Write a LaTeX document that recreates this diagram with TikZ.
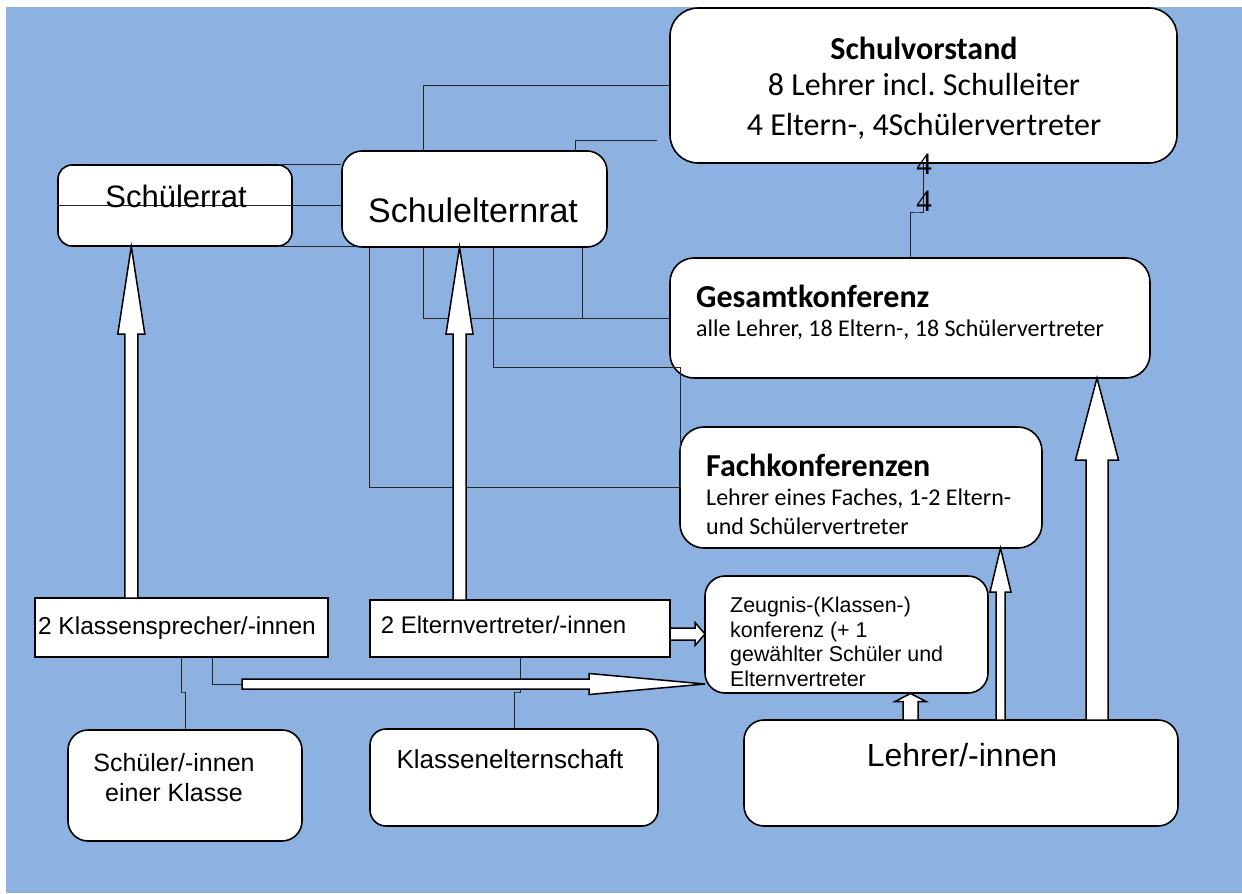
\documentclass[tikz,border=0pt]{standalone}
\usepackage{fontspec}
\newfontfamily\calfont{Carlito}
\newfontfamily\arifont{Liberation Sans}
\newfontfamily\tmsfont{Liberation Serif}
\definecolor{bgblue}{HTML}{8DB1E1}
\frenchspacing
\newcommand\fsz[1]{\fontsize{#1}{#1}\selectfont}
% vertical block arrow: x, ybase, ytip, shaft half, head half, head length
\newcommand\blkup[6]{%
  \draw[barr] (#1-#4,#2) -- (#1-#4,#3+#6) -- (#1-#5,#3+#6) -- (#1,#3) --
    (#1+#5,#3+#6) -- (#1+#4,#3+#6) -- (#1+#4,#2) -- cycle;}
% horizontal block arrow: xtail, y, xtip, shaft half, head half, head length
\newcommand\blkright[6]{%
  \draw[barr] (#1,#2-#4) -- (#3-#6,#2-#4) -- (#3-#6,#2-#5) -- (#3,#2) --
    (#3-#6,#2+#5) -- (#3-#6,#2+#4) -- (#1,#2+#4) -- cycle;}
\begin{document}
\begin{tikzpicture}[x=1pt,y=-1pt,
  bx/.style={draw=black,line width=1.6pt,fill=white,inner sep=0pt,rounded corners=#1},
  sq/.style={draw=black,line width=1.6pt,fill=white,inner sep=0pt,sharp corners},
  ln/.style={draw=black!85,line width=0.9pt},
  barr/.style={draw=black,line width=1.5pt,fill=white,line join=miter},
  tc/.style={inner sep=0pt,anchor=base},
  tw/.style={inner sep=0pt,anchor=base west}]
\useasboundingbox (0,0) rectangle (1242,894);
\fill[white] (0,0) rectangle (1242,894);
\fill[bgblue] (6,7) rectangle (1242,893);

% boxes
\node[bx=28, minimum width=507, minimum height=155] (sv) at (923.5,85.5) {};
\node[bx=14, minimum width=234, minimum height=81] (sr) at (175,205.5) {};
\node[bx=20, minimum width=265, minimum height=96] (ser) at (474.5,199) {};
\node[bx=24, minimum width=480, minimum height=120] (gk) at (910,318) {};
\node[bx=24, minimum width=362, minimum height=121] (fk) at (861,487.5) {};
\node[bx=20, minimum width=283, minimum height=117] (zk) at (846.5,634.5) {};
\node[bx=20, minimum width=434, minimum height=106] (le) at (961,773) {};
\node[sq, minimum width=293, minimum height=59] (ks) at (181.5,627.5) {};
\node[sq, minimum width=300, minimum height=57] (ev) at (520,628.5) {};
\node[bx=20, minimum width=234, minimum height=111] (sk) at (185,785.5) {};
\node[bx=16, minimum width=288, minimum height=97] (ke) at (514,777.5) {};

% helper coordinates
\coordinate (c423) at (423,0);
\coordinate (free2) at (657,140);
\coordinate (t3) at ([xshift=105pt]sr.north);
\coordinate (t5) at ([xshift=105pt]sr.south);
\coordinate (j9) at (680,367);
\coordinate (j10) at (917,212);
\coordinate (j11) at (183,692);
\coordinate (j13) at (517,692);
\coordinate (hat) at (242,684);

% thin connectors
\draw[ln] (sv.west) -| (ser.north -| c423);
\draw[ln] (free2) -| ([xshift=100.5pt]ser.north);
\draw[ln] (t3) -- (t3 -| ser.west);
\draw[ln] (sr.west) -- (sr.west -| ser.west);
\draw[ln] (t5) -- ++(76,0);
\draw[ln] ([xshift=-105.5pt]ser.south) |- (fk.west);
\draw[ln] ([xshift=-51.5pt]ser.south) |- (gk.west);
\draw[ln] ([xshift=107.5pt]ser.south) |- (gk.west);
\draw[ln] ([xshift=18.5pt]ser.south) |- (j9) -- (j9 |- fk.west);
\draw[ln] (gk.north) |- (j10) -| (sv.south);
\draw[ln] (ks.south) |- (j11) -| (sk.north);
\draw[ln] ([xshift=30.5pt]ks.south) |- (hat);
\draw[ln] (ev.south) |- (j13) -| (ke.north);

% block arrows
\blkup{131.3}{598}{246.5}{6.5}{13.5}{87.5}
\blkup{459.5}{600}{247}{6.5}{13.5}{87}
\blkup{1000.5}{720}{548}{4.5}{10.5}{44}
\blkup{1097}{720}{378}{11}{21.5}{82}
\blkup{910.5}{720}{693.5}{7.5}{15.5}{8}
\blkright{242}{684}{705}{5}{10.5}{116}
\blkright{670}{634}{705}{6}{11.5}{10}

% texts
\node[tc,font=\calfont\bfseries\fsz{32}] (sv1) at (924,59) {Schulvorstand};
\node[tc,font=\calfont\fsz{32}] (sv2) at (924,95.5) {8 Lehrer incl. Schulleiter};
\node[tc,font=\calfont\fsz{32}] (sv3) at (924,135) {4 Eltern-, 4Schülervertreter};
\node[tc,font=\tmsfont\fsz{31}] (n4a) at (924,174) {4};
\node[tc,font=\tmsfont\fsz{31}] (n4b) at (924,211) {4};
\node[tc,font=\arifont\fsz{31}] (srt) at (176,207) {Schülerrat};
\node[tc,font=\arifont\fsz{34}] (sert) at (473,222) {Schulelternrat};
\node[tw,font=\calfont\bfseries\fsz{32}] (gk1) at (696,307) {Gesamtkonferenz};
\node[tw,font=\calfont\fsz{24}] (gk2) at (696,336) {alle Lehrer, 18 Eltern-, 18 Schülervertreter};
\node[tw,font=\calfont\bfseries\fsz{32}] (fk1) at (706,476) {Fachkonferenzen};
\node[tw,font=\calfont\fsz{24}] (fk2) at (706,505) {Lehrer eines Faches, 1-2 Eltern-};
\node[tw,font=\calfont\fsz{24}] (fk3) at (706,534) {und Schülervertreter};
\node[tw,font=\arifont\fsz{21.4}] (zk1) at (730,612) {Zeugnis-(Klassen-)};
\node[tw,font=\arifont\fsz{21.4}] (zk2) at (730,637) {konferenz (+ 1};
\node[tw,font=\arifont\fsz{21.4}] (zk3) at (730,661.5) {gewählter Schüler und};
\node[tw,font=\arifont\fsz{21.4}] (zk4) at (730,686) {Elternvertreter};
\node[tc,font=\arifont\fsz{32}] (let) at (962,766) {Lehrer/-innen};
\node[tc,font=\arifont\fsz{24.5}] (kst) at (177,634) {2 Klassensprecher/-innen};
\node[tc,font=\arifont\fsz{24}] (evt) at (503.5,633) {2 Elternvertreter/-innen};
\node[tc,font=\arifont\fsz{25}] (sk1) at (174,771) {Schüler/-innen};
\node[tc,font=\arifont\fsz{25}] (sk2) at (174,801) {einer Klasse};
\node[tc,font=\arifont\fsz{26}] (ket) at (510,768) {Klassenelternschaft};
\end{tikzpicture}
\end{document}
